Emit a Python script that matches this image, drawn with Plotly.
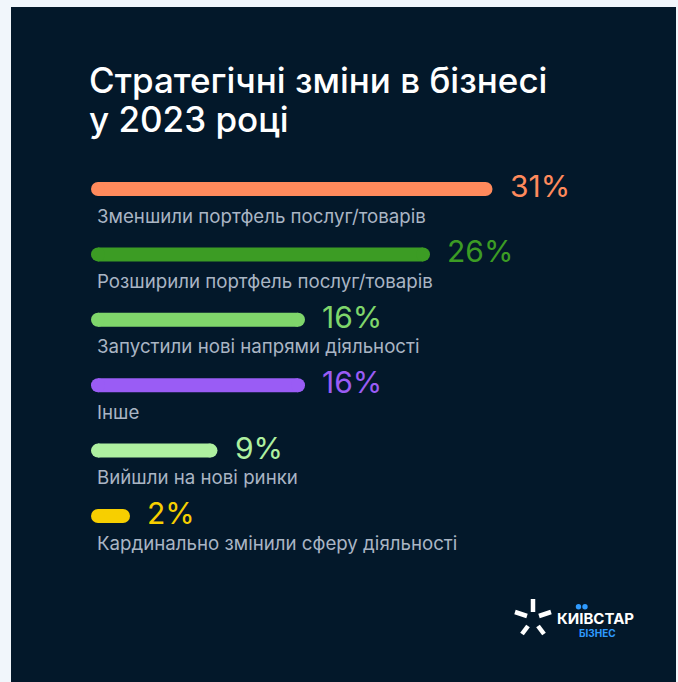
import plotly.graph_objects as go

# Survey results: strategic business changes in 2023
categories = [
    "Зменшили портфель послуг/товарів",
    "Розширили портфель послуг/товарів",
    "Запустили нові напрями діяльності",
    "Інше",
    "Вийшли на нові ринки",
    "Кардинально змінили сферу діяльності",
]
values = [31, 26, 16, 16, 9, 2]
colors = ["#ff8a5c", "#3c9c24", "#7fd66b", "#9a5cf5", "#aef0a0", "#f7cf00"]
value_labels = [f"{v}%" for v in values]
title_lines = ["Стратегічні зміни в бізнесі", "у 2023 році"]

W, H = 678, 682
BG_OUT = "#f1f6fb"
BG_PANEL = "#03182a"
LABEL_GREY = "#aab5c4"
FONT = "Inter"

# axis scales: 12.5 px per percent, zero at 98 px; rows 65.4 px apart
px_per_pct = 12.5
x0_px = 98
row_px = 65.4
first_row_px = 189


def px(x):
    return x / W


def py(y):
    return 1 - y / H


fig = go.Figure()

for i, (cat, v, c) in enumerate(zip(categories, values, colors)):
    fig.add_trace(go.Scatter(
        x=[0, v], y=[-i, -i],
        mode="lines+markers",
        line=dict(color=c, width=14),
        marker=dict(color=c, size=14, line=dict(width=0)),
        hoverinfo="skip", showlegend=False,
    ))

annotations = []
for i, (cat, lab, v, c) in enumerate(zip(categories, value_labels, values, colors)):
    annotations.append(dict(
        x=v, y=-i, xref="x", yref="y", text=lab, showarrow=False,
        xanchor="left", yanchor="middle", xshift=22, yshift=3,
        font=dict(family=FONT, size=30, color=c),
    ))
    annotations.append(dict(
        x=px(95), y=-i, xref="paper", yref="y", text=cat, showarrow=False,
        xanchor="left", yanchor="middle", yshift=-27,
        font=dict(family=FONT, size=18.7, color=LABEL_GREY),
    ))

# title, two lines
for line, yc in zip(title_lines, (80, 119)):
    annotations.append(dict(
        x=px(87), y=py(yc), xref="paper", yref="paper", text=line,
        showarrow=False, xanchor="left", yanchor="middle", align="left",
        font=dict(family=FONT, size=35, color="#ffffff", weight=500),
    ))

# brand mark text
annotations.append(dict(
    x=px(555), y=py(618), xref="paper", yref="paper", text="<b>КИІВСТАР</b>",
    showarrow=False, xanchor="left", yanchor="middle",
    font=dict(family=FONT, size=15, color="#ffffff"),
))
annotations.append(dict(
    x=px(577), y=py(633), xref="paper", yref="paper", text="<b>БІЗНЕС</b>",
    showarrow=False, xanchor="left", yanchor="middle",
    font=dict(family=FONT, size=10, color="#2f9bff"),
))

shapes = [
    dict(type="rect", xref="paper", yref="paper",
         x0=px(11), x1=px(676), y0=0, y1=py(7),
         fillcolor=BG_PANEL, line=dict(width=0), layer="below"),
]
# star rays of the brand mark
rays = [((533, 599), (533, 612)), ((515, 612), (527, 616)),
        ((539, 616), (551, 612)), ((522, 634), (528, 626)),
        ((538, 626), (544, 634))]
for (xa, ya), (xb, yb) in rays:
    shapes.append(dict(type="line", xref="paper", yref="paper",
                       x0=px(xa), y0=py(ya), x1=px(xb), y1=py(yb),
                       line=dict(color="#ffffff", width=4.5)))
# dots over the letter
for dx in (578.5, 585):
    shapes.append(dict(type="circle", xref="paper", yref="paper",
                       x0=px(dx - 2.7), x1=px(dx + 2.7),
                       y0=py(609.5), y1=py(604),
                       fillcolor="#2f9bff", line=dict(width=0)))

x_min = -x0_px / px_per_pct
x_max = x_min + W / px_per_pct
y_top = first_row_px / row_px
y_bottom = y_top - H / row_px

fig.update_layout(
    width=W, height=H,
    margin=dict(l=0, r=0, t=0, b=0),
    paper_bgcolor=BG_OUT, plot_bgcolor="rgba(0,0,0,0)",
    xaxis=dict(range=[x_min, x_max], visible=False, fixedrange=True),
    yaxis=dict(range=[y_bottom, y_top], visible=False, fixedrange=True),
    annotations=annotations, shapes=shapes,
    showlegend=False,
)

fig.write_html("out.html", config={"displayModeBar": False})
